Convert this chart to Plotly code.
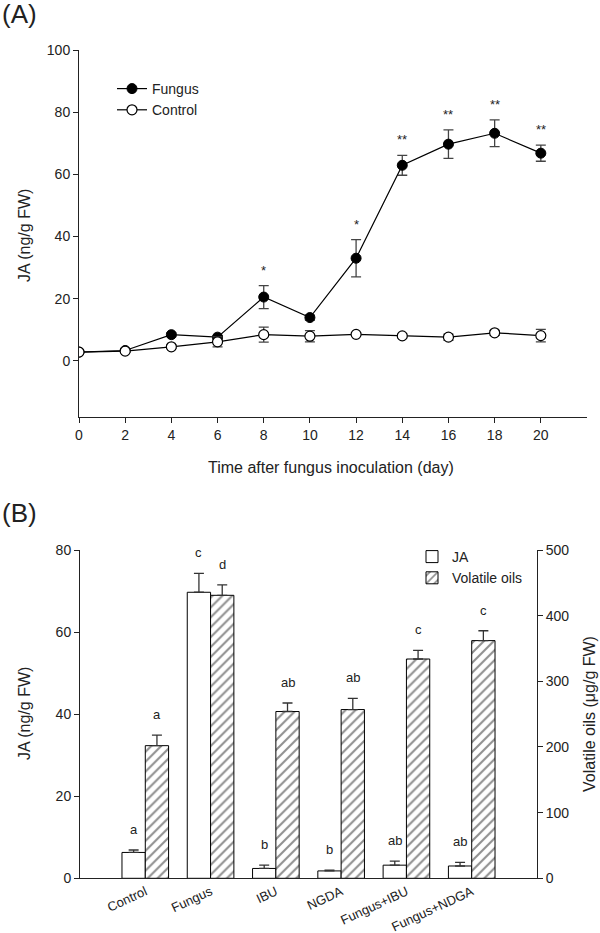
import plotly.graph_objects as go

# ---------------- Panel A data ----------------
days = [0, 2, 4, 6, 8, 10, 12, 14, 16, 18, 20]
fungus_ja = [2.8, 3.3, 8.4, 7.6, 20.5, 13.9, 33.0, 62.9, 69.7, 73.2, 66.8]
fungus_err = [0.3, 0.4, 0.6, 0.5, 3.7, 0.8, 6.0, 3.2, 4.6, 4.3, 2.6]
control_ja = [2.8, 3.1, 4.5, 6.1, 8.4, 7.9, 8.5, 8.0, 7.6, 9.0, 8.1]
control_err = [0.3, 0.4, 0.5, 1.6, 2.4, 1.8, 0.5, 0.6, 1.0, 0.8, 2.0]
sig_marks = ["", "", "", "", "*", "", "*", "**", "**", "**", "**"]
a_yticks = [0, 20, 40, 60, 80, 100]

# ---------------- Panel B data ----------------
treatments = ["Control", "Fungus", "IBU", "NGDA", "Fungus+IBU", "Fungus+NDGA"]
ja_vals = [6.3, 69.7, 2.4, 1.8, 3.2, 3.0]
ja_err = [0.6, 4.6, 0.8, 0.2, 1.0, 0.9]
vo_vals = [202, 431, 254, 257, 334, 362]
vo_err = [16, 16, 13, 17, 13, 15]
ja_letters = ["a", "c", "b", "b", "ab", "ab"]
vo_letters = ["a", "d", "ab", "ab", "c", "c"]
b_left_ticks = [0, 20, 40, 60, 80]
b_right_ticks = [0, 100, 200, 300, 400, 500]

FONT = "Arial, 'Liberation Sans', sans-serif"
INK = "#222222"
W, H = 600, 933

def px_x(p):
    return p / W

def px_y(p):
    return 1 - p / H

fig = go.Figure()

# Panel A traces
fig.add_trace(go.Scatter(
    x=days, y=fungus_ja, name="Fungus", mode="lines+markers",
    line=dict(color="black", width=1.2),
    marker=dict(symbol="circle", size=10, color="black", line=dict(color="black", width=1)),
    error_y=dict(type="data", array=fungus_err, color="#444444", thickness=1.3, width=5),
    xaxis="x", yaxis="y", legend="legend",
))
fig.add_trace(go.Scatter(
    x=days, y=control_ja, name="Control", mode="lines+markers",
    line=dict(color="black", width=1.2),
    marker=dict(symbol="circle", size=10, color="white", line=dict(color="black", width=1.2)),
    error_y=dict(type="data", array=control_err, color="#444444", thickness=1.3, width=5),
    xaxis="x", yaxis="y", legend="legend",
))

# Panel B traces
bw = 0.357
idx = list(range(len(treatments)))
fig.add_trace(go.Bar(
    x=idx, y=ja_vals, name="JA", offset=-bw, width=bw,
    marker=dict(color="white", line=dict(color="black", width=1)),
    error_y=dict(type="data", symmetric=False, array=ja_err, arrayminus=[0] * len(ja_err),
                 color="#333333", thickness=1.3, width=5),
    xaxis="x2", yaxis="y2", legend="legend2",
))
fig.add_trace(go.Bar(
    x=idx, y=vo_vals, name="Volatile oils", offset=0, width=bw,
    marker=dict(color="white", line=dict(color="black", width=1),
                pattern=dict(shape="/", fgcolor="#222222", bgcolor="white", size=7, solidity=0.3)),
    error_y=dict(type="data", symmetric=False, array=vo_err, arrayminus=[0] * len(vo_err),
                 color="#333333", thickness=1.3, width=5),
    xaxis="x2", yaxis="y3", legend="legend2",
))

annotations = []
# significance marks in A
for d, v, e, s in zip(days, fungus_ja, fungus_err, sig_marks):
    if s:
        annotations.append(dict(x=d, y=v + e, xref="x", yref="y", text=s, showarrow=False,
                                yanchor="bottom", yshift=6, font=dict(size=13, color=INK, family=FONT)))
# letters in B
for i, v, e, t in zip(idx, ja_vals, ja_err, ja_letters):
    annotations.append(dict(x=i - bw / 2, y=v + e, xref="x2", yref="y2", text=t, showarrow=False,
                            yanchor="bottom", yshift=11, font=dict(size=13, color=INK, family=FONT)))
for i, v, e, t in zip(idx, vo_vals, vo_err, vo_letters):
    annotations.append(dict(x=i + bw / 2, y=v + e, xref="x2", yref="y3", text=t, showarrow=False,
                            yanchor="bottom", yshift=11, font=dict(size=13, color=INK, family=FONT)))

# panel letters and axis titles
annotations += [
    dict(x=0, y=px_y(14), xref="paper", yref="paper", text="(A)", showarrow=False,
         xanchor="left", yanchor="middle", font=dict(size=26, color=INK, family=FONT)),
    dict(x=0, y=px_y(513), xref="paper", yref="paper", text="(B)", showarrow=False,
         xanchor="left", yanchor="middle", font=dict(size=26, color=INK, family=FONT)),
    dict(x=px_x(24), y=px_y(236), xref="paper", yref="paper", text="JA (ng/g FW)", showarrow=False,
         xanchor="center", yanchor="middle",
         textangle=-90, font=dict(size=16, color=INK, family=FONT)),
    dict(x=px_x(331), y=px_y(467), xref="paper", yref="paper",
         text="Time after fungus inoculation (day)", showarrow=False,
         xanchor="center", yanchor="middle",
         font=dict(size=16, color=INK, family=FONT)),
    dict(x=px_x(24), y=px_y(714), xref="paper", yref="paper", text="JA (ng/g FW)", showarrow=False,
         xanchor="center", yanchor="middle",
         textangle=-90, font=dict(size=16, color=INK, family=FONT)),
    dict(x=px_x(589), y=px_y(714), xref="paper", yref="paper", text="Volatile oils (μg/g FW)",
         xanchor="center", yanchor="middle",
         showarrow=False, textangle=-90, font=dict(size=16, color=INK, family=FONT)),
]

axis_common = dict(showline=True, linecolor=INK, linewidth=1, showgrid=False, zeroline=False,
                   ticks="outside", ticklen=5, tickcolor=INK, tickwidth=1,
                   tickfont=dict(size=14, color=INK, family=FONT), automargin=False)

fig.update_layout(
    width=W, height=H, margin=dict(l=0, r=0, t=0, b=0),
    paper_bgcolor="white", plot_bgcolor="white",
    showlegend=True,
    xaxis=dict(domain=[px_x(79), px_x(587)], range=[0, 22], tickvals=days, anchor="y",
               **axis_common),
    yaxis=dict(domain=[px_y(416.7), px_y(50)], range=[-18, 100], tickvals=a_yticks, anchor="x",
               **axis_common),
    xaxis2=dict(domain=[px_x(80), px_x(537)], range=[-1, 6], tickvals=idx, ticktext=treatments,
                tickangle=-25, anchor="y2", showline=True, linecolor=INK, linewidth=1,
                showgrid=False, zeroline=False, ticks="", automargin=False,
                tickfont=dict(size=13, color=INK, family=FONT)),
    yaxis2=dict(domain=[px_y(878.3), px_y(550)], range=[0, 80], tickvals=b_left_ticks, anchor="x2",
                **axis_common),
    yaxis3=dict(range=[0, 500], tickvals=b_right_ticks, overlaying="y2", side="right", anchor="x2",
                **axis_common),
    legend=dict(x=px_x(112), y=px_y(73), xanchor="left", yanchor="top", bgcolor="rgba(0,0,0,0)",
                font=dict(size=14, color=INK, family=FONT), itemwidth=30, tracegroupgap=0),
    legend2=dict(x=px_x(412), y=px_y(541), xanchor="left", yanchor="top", bgcolor="rgba(0,0,0,0)",
                 font=dict(size=14, color=INK, family=FONT), itemwidth=30),
    annotations=annotations,
)

fig.write_html("out.html", config={"displayModeBar": False},
               post_script="document.body.style.margin='0';document.body.style.padding='0';")
